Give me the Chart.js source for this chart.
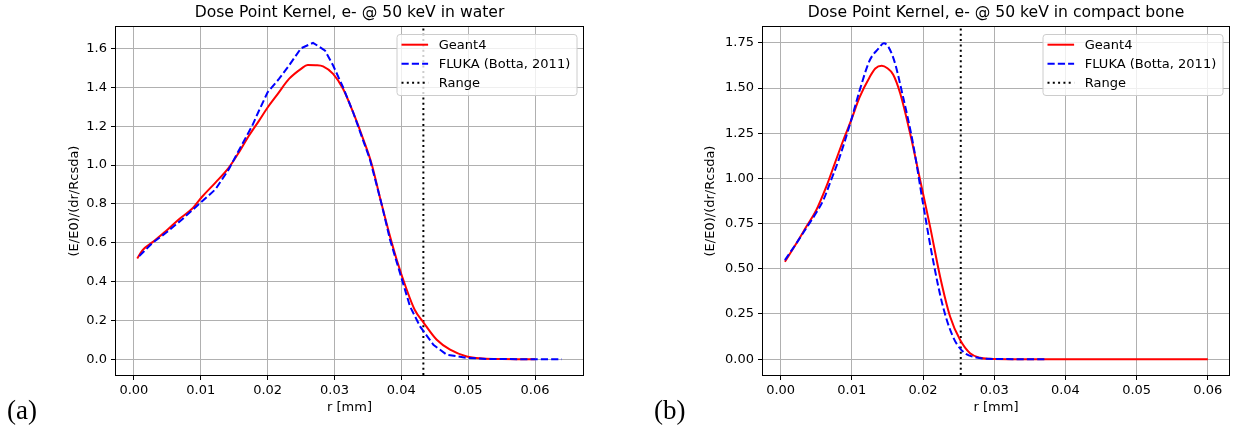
<!DOCTYPE html>
<html><head><meta charset="utf-8">
<script src="https://cdn.jsdelivr.net/npm/chart.js@4.4.1/dist/chart.umd.min.js"></script>
<style>
html,body{margin:0;padding:0;background:#fff;width:1235px;height:436px;overflow:hidden}
.box{position:absolute;top:0;height:436px}
#a{left:0;width:617px}
#b{left:617px;width:618px}
.lab{position:absolute;font-family:"Liberation Serif","DejaVu Serif",serif;font-size:27px;top:394px;color:#000;line-height:32px}
</style></head>
<body>
<div class="box" id="a"><canvas id="ca" width="617" height="436"></canvas></div>
<div class="box" id="b"><canvas id="cb" width="618" height="436"></canvas></div>
<div class="lab" style="left:7px">(a)</div>
<div class="lab" style="left:654px">(b)</div>
<script>
// ---------- data ----------
const waterGeant4X = [0.0005,0.0013,0.0028,0.0048,0.0067,0.0087,0.0102,0.0122,0.0142,0.0157,0.0172,0.0187,0.0200,0.0215,0.0232,0.0250,0.0260,0.0272,0.0283,0.0298,0.0313,0.0328,0.0343,0.0355,0.0370,0.0383,0.0393,0.0408,0.0420,0.0433,0.0453,0.0473,0.0498,0.0522,0.0550,0.0600];
const waterGeant4Y = [0.519,0.562,0.603,0.660,0.720,0.775,0.837,0.910,0.987,1.065,1.151,1.228,1.297,1.366,1.444,1.496,1.516,1.515,1.509,1.470,1.392,1.271,1.134,1.013,0.806,0.634,0.514,0.359,0.255,0.190,0.100,0.049,0.014,0.004,0.001,0.000];
const waterFlukaX = [0.0008,0.0028,0.0048,0.0072,0.0097,0.0122,0.0142,0.0162,0.0177,0.0187,0.0200,0.0217,0.0232,0.0250,0.0268,0.0286,0.0298,0.0313,0.0328,0.0353,0.0370,0.0383,0.0398,0.0413,0.0428,0.0448,0.0468,0.0498,0.0530,0.0580,0.0640];
const waterFlukaY = [0.531,0.600,0.651,0.720,0.798,0.875,0.979,1.108,1.203,1.280,1.375,1.444,1.513,1.602,1.630,1.590,1.513,1.400,1.271,1.030,0.806,0.617,0.444,0.272,0.169,0.074,0.023,0.007,0.001,0.000,0.000];
const boneGeant4X = [0.0006,0.0022,0.0036,0.0050,0.0064,0.0076,0.0088,0.0099,0.0111,0.0125,0.0133,0.0142,0.0150,0.0158,0.0168,0.0182,0.0196,0.0210,0.0224,0.0238,0.0252,0.0266,0.0280,0.0294,0.0320,0.0600];
const boneGeant4Y = [0.539,0.640,0.732,0.824,0.953,1.082,1.211,1.321,1.450,1.560,1.608,1.623,1.609,1.575,1.470,1.247,0.990,0.732,0.456,0.236,0.107,0.033,0.008,0.002,0.000,0.000];
const boneFlukaX = [0.0006,0.0022,0.0036,0.0050,0.0060,0.0069,0.0083,0.0099,0.0111,0.0125,0.0137,0.0145,0.0158,0.0172,0.0186,0.0200,0.0214,0.0228,0.0242,0.0256,0.0275,0.0300,0.0373];
const boneFlukaY = [0.548,0.640,0.725,0.810,0.880,0.971,1.119,1.321,1.487,1.652,1.716,1.748,1.670,1.450,1.192,0.861,0.549,0.291,0.125,0.042,0.009,0.001,0.000];
const waterRange = 0.0433;
const boneRange = 0.0253;
const xTicks = [0.00,0.01,0.02,0.03,0.04,0.05,0.06];
const waterYTicks = [0.0,0.2,0.4,0.6,0.8,1.0,1.2,1.4,1.6];
const boneYTicks = [0.00,0.25,0.50,0.75,1.00,1.25,1.50,1.75];
const waterXLim = [-0.00268,0.06718];
const waterYLim = [-0.0815,1.7115];
const boneXLim = [-0.002475,0.062975];
const boneYLim = [-0.0875,1.8375];
const seriesLabels = ['Geant4','FLUKA (Botta, 2011)','Range'];
const titles = ['Dose Point Kernel, e- @ 50 keV in water','Dose Point Kernel, e- @ 50 keV in compact bone'];
const xLabel = 'r [mm]';
const yLabel = '(E/E0)/(dr/Rcsda)';

// ---------- drawing ----------
const FONT = '"DejaVu Sans", "Liberation Sans", sans-serif';
const pts = (xs, ys) => xs.map((x,i)=>({x, y: ys[i]}));

const deco = {
  id: 'deco',
  afterDraw(chart, args, o) {
    const ctx = chart.ctx, a = chart.chartArea;
    ctx.save();
    // legend
    const w = 180, h = 61;
    const lx = a.right - 6.5 - w, ly = a.top + 7;
    ctx.beginPath();
    if (ctx.roundRect) ctx.roundRect(lx+0.5, ly+0.5, w, h, 3); else ctx.rect(lx+0.5, ly+0.5, w, h);
    ctx.fillStyle = 'rgba(255,255,255,0.8)';
    ctx.fill();
    ctx.strokeStyle = '#cccccc'; ctx.lineWidth = 1; ctx.setLineDash([]);
    ctx.stroke();
    chart.data.datasets.forEach((ds, i) => {
      const yy = ly + 10.7 + 19 * i;
      ctx.beginPath();
      ctx.setLineDash(ds.borderDash || []);
      ctx.strokeStyle = ds.borderColor; ctx.lineWidth = ds.borderWidth; ctx.lineCap = 'butt';
      ctx.moveTo(lx + 5, yy); ctx.lineTo(lx + 31.6, yy); ctx.stroke();
      ctx.setLineDash([]);
      ctx.fillStyle = '#000'; ctx.font = '13px ' + FONT;
      ctx.textBaseline = 'middle'; ctx.textAlign = 'left';
      ctx.fillText(ds.label, lx + 42.3, yy + 1);
    });
    // frame
    ctx.strokeStyle = '#000'; ctx.lineWidth = 1; ctx.setLineDash([]);
    ctx.strokeRect(Math.round(a.left) - 0.5, Math.round(a.top) - 0.5, Math.round(a.right - a.left) + 1, Math.round(a.bottom - a.top) + 1);
    // title
    ctx.fillStyle = '#000';
    ctx.textAlign = 'center'; ctx.textBaseline = 'middle';
    ctx.font = '15.6px ' + FONT;
    ctx.fillText(o.title, (a.left + a.right) / 2, 13);
    // x label
    ctx.font = '13px ' + FONT;
    ctx.fillText(xLabel, (a.left + a.right) / 2, 408);
    // y label
    ctx.save();
    ctx.translate(o.yLabelX, (a.top + a.bottom) / 2);
    ctx.rotate(-Math.PI / 2);
    ctx.fillText(yLabel, 0, 0);
    ctx.restore();
    ctx.restore();
  }
};

function makeChart(id, g4x, g4y, flx, fly, range, xLim, yLim, yTicks, yDigits, yAxisW, padRight, title, yLabelX, flukaSmooth) {
  const tickFont = {family: FONT, size: 13};
  new Chart(document.getElementById(id), {
    type: 'line',
    data: {
      datasets: [
        {label: seriesLabels[0], data: pts(g4x, g4y), borderColor: '#ff0000', borderWidth: 2, pointRadius: 0, cubicInterpolationMode: 'monotone', fill: false, order: 1},
        {label: seriesLabels[1], data: pts(flx, fly), borderColor: '#0000ff', borderWidth: 2, borderDash: [7.2, 3.1], pointRadius: 0, fill: false, order: 0,
          cubicInterpolationMode: flukaSmooth ? 'monotone' : 'default', tension: 0},
        {label: seriesLabels[2], data: [{x: range, y: yLim[0]}, {x: range, y: yLim[1]}], borderColor: '#000000', borderWidth: 2, borderDash: [2, 3.3], pointRadius: 0, tension: 0, fill: false, order: 2}
      ]
    },
    options: {
      responsive: false, animation: false, events: [],
      layout: {padding: {left: 0, top: 27, right: padRight, bottom: 0}},
      plugins: {legend: {display: false}, title: {display: false}, tooltip: {enabled: false},
        deco: {title, yLabelX}},
      scales: {
        x: {
          type: 'linear', min: xLim[0], max: xLim[1],
          afterFit: s => { s.height = 61; },
          afterBuildTicks: s => { s.ticks = xTicks.map(v => ({value: v})); },
          ticks: {font: tickFont, color: '#000', padding: 3, maxRotation: 0, autoSkip: false,
            callback: v => Number(v).toFixed(2)},
          grid: {color: '#b0b0b0', lineWidth: 1, drawTicks: true, tickLength: 5, tickColor: '#000', tickWidth: 1},
          border: {display: false}
        },
        y: {
          type: 'linear', min: yLim[0], max: yLim[1],
          afterFit: s => { s.width = yAxisW; },
          afterBuildTicks: s => { s.ticks = yTicks.map(v => ({value: v})); },
          ticks: {font: tickFont, color: '#000', padding: 4, autoSkip: false,
            callback: v => Number(v).toFixed(yDigits)},
          grid: {color: '#b0b0b0', lineWidth: 1, drawTicks: true, tickLength: 5, tickColor: '#000', tickWidth: 1},
          border: {display: false}
        }
      }
    },
    plugins: [deco]
  });
}

makeChart('ca', waterGeant4X, waterGeant4Y, waterFlukaX, waterFlukaY, waterRange, waterXLim, waterYLim, waterYTicks, 1, 116, 34, titles[0], 75, false);
makeChart('cb', boneGeant4X, boneGeant4Y, boneFlukaX, boneFlukaY, boneRange, boneXLim, boneYLim, boneYTicks, 2, 146, 6, titles[1], 94, true);
</script>
</body></html>
